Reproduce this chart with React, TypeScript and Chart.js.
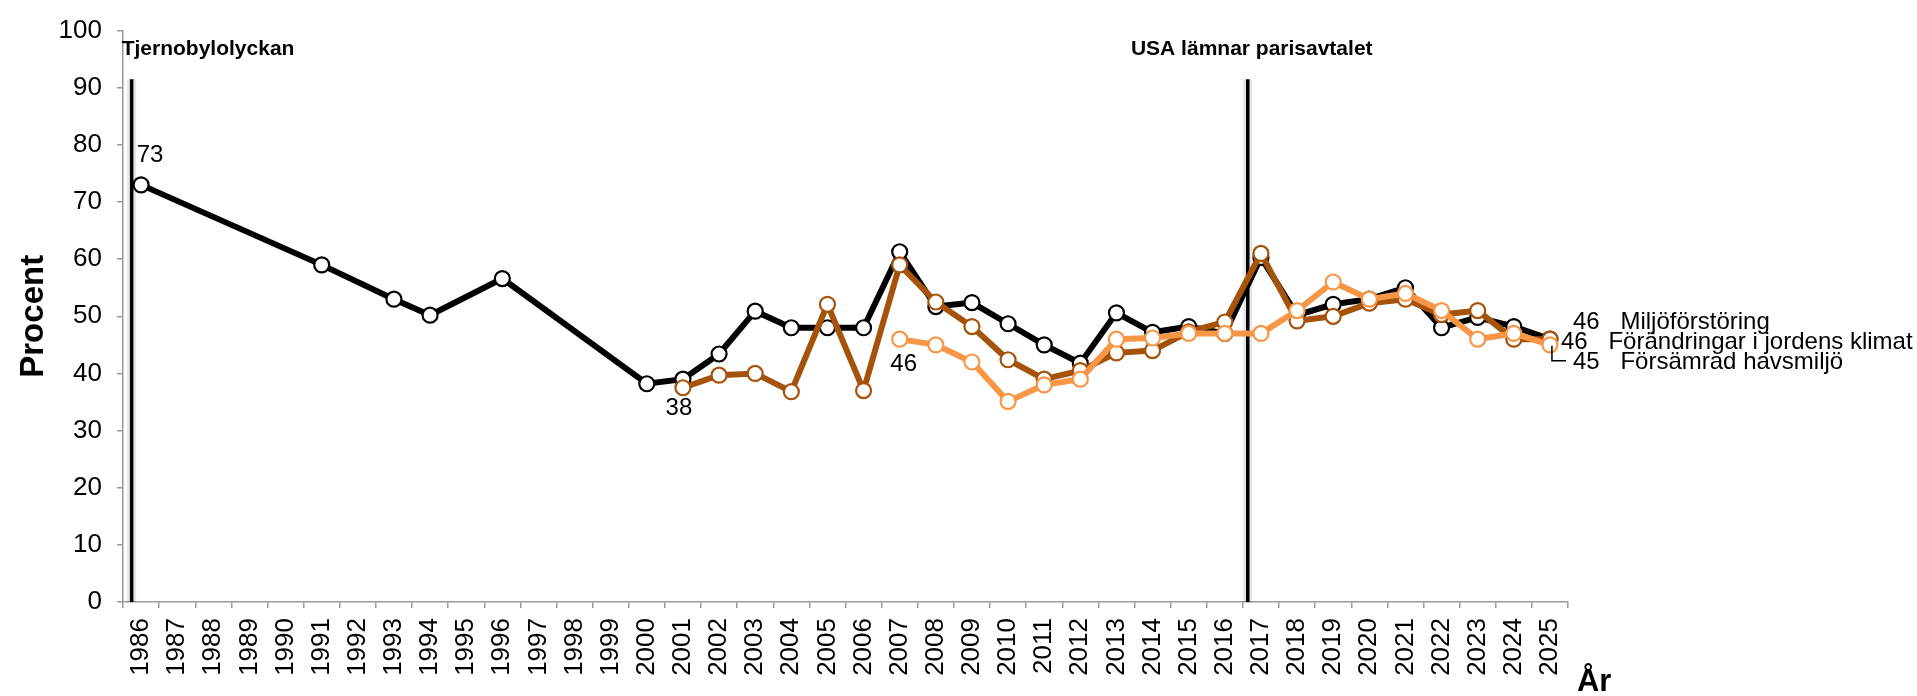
import React, { useEffect, useRef } from 'react';
import { Chart, registerables } from 'chart.js';

Chart.register(...registerables);

const FONT = "'Liberation Sans', Arial, Helvetica, sans-serif";

// ---- Data ----
const years = [
  '1986', '1987', '1988', '1989', '1990', '1991', '1992', '1993', '1994', '1995',
  '1996', '1997', '1998', '1999', '2000', '2001', '2002', '2003', '2004', '2005',
  '2006', '2007', '2008', '2009', '2010', '2011', '2012', '2013', '2014', '2015',
  '2016', '2017', '2018', '2019', '2020', '2021', '2022', '2023', '2024', '2025',
];

const miljoforstoring = [
  73, null, null, null, null, 59, null, 53, 50.2, null,
  56.6, null, null, null, 38.2, 39, 43.4, 50.9, 48, 48,
  48, 61.3, 51.7, 52.4, 48.7, 45, 41.8, 50.6, 47.2, 48.2,
  47, 60.3, 50.2, 52.1, 53, 55, 48, 49.8, 48.2, 46,
];

const klimat = [
  null, null, null, null, null, null, null, null, null, null,
  null, null, null, null, null, 37.5, 39.7, 40, 36.8, 52.1,
  37, 59, 52.5, 48.2, 42.4, 39, 40.5, 43.6, 44, 47.3,
  49, 61, 49.2, 50, 52.3, 53, 50.3, 51, 46, 46,
];

const havsmiljo = [
  null, null, null, null, null, null, null, null, null, null,
  null, null, null, null, null, null, null, null, null, null,
  null, 46, 45, 42, 35.1, 38, 39, 46, 46.2, 47,
  47, 47, 51, 56, 53, 54, 51, 46, 47, 45,
];

const seriesNames = ['Miljöförstöring', 'Förändringar i jordens klimat', 'Försämrad havsmiljö'];
const seriesColors = ['#000000', '#A5520B', '#F79646'];

const eventNames = ['Tjernobylolyckan', 'USA lämnar parisavtalet'];
const eventYears = [1985.74, 2016.635];
const eventTop = 91.5;

const yTitle = 'Procent';
const xTitle = 'År';

// point labels: [series index, category index]
const pointLabelSeries = [0, 1, 2];
const pointLabelIndex = [0, 15, 21];

export default function App() {
  const ref = useRef<HTMLCanvasElement | null>(null);

  useEffect(() => {
    const canvas = ref.current;
    if (!canvas) return;
    const allSeries = [miljoforstoring, klimat, havsmiljo];

    const overlay = {
      id: 'overlay',
      beforeDatasetsDraw(chart: any) {
        const { ctx, scales } = chart;
        const x = scales.x;
        const y = scales.y;
        ctx.save();
        eventYears.forEach((yr) => {
          const px = x.getPixelForValue(yr - 1986);
          const top = y.getPixelForValue(eventTop);
          const bottom = y.getPixelForValue(0);
          ctx.beginPath();
          ctx.strokeStyle = 'rgba(0,0,0,0.10)';
          ctx.lineWidth = 9;
          ctx.moveTo(px, top);
          ctx.lineTo(px, bottom);
          ctx.stroke();
          ctx.beginPath();
          ctx.strokeStyle = '#000';
          ctx.lineWidth = 3.5;
          ctx.moveTo(px, top);
          ctx.lineTo(px, bottom);
          ctx.stroke();
        });
        ctx.restore();
      },
      afterDatasetsDraw(chart: any) {
        const { ctx, scales } = chart;
        const x = scales.x;
        const y = scales.y;
        ctx.save();
        ctx.fillStyle = '#000';

        // event labels
        ctx.font = `bold 21px ${FONT}`;
        ctx.textBaseline = 'alphabetic';
        eventYears.forEach((yr, i) => {
          const px = x.getPixelForValue(yr - 1986);
          if (i === 0) {
            ctx.textAlign = 'left';
            ctx.fillText(eventNames[i], px - 10, 55);
          } else {
            ctx.textAlign = 'center';
            ctx.fillText(eventNames[i], px + 4, 55);
          }
        });

        // point labels
        ctx.font = `24px ${FONT}`;
        ctx.textAlign = 'center';
        ctx.textBaseline = 'middle';
        const offs = [[9, -30], [-4, 21], [4, 25]];
        pointLabelSeries.forEach((s, k) => {
          const idx = pointLabelIndex[k];
          const v = allSeries[s][idx] as number;
          const px = x.getPixelForValue(idx);
          const py = y.getPixelForValue(v);
          ctx.fillText(String(Math.round(v)), px + offs[k][0], py + offs[k][1]);
        });

        // end labels
        const last = years.length - 1;
        const lastX = x.getPixelForValue(last);
        const baseY = y.getPixelForValue(allSeries[0][last] as number) - 10;
        const rowDx = [23, 11, 23];
        const rowDy = [0, 20, 39.5];
        ctx.font = `24px ${FONT}`;
        ctx.textAlign = 'left';
        ctx.textBaseline = 'alphabetic';
        allSeries.forEach((arr, s) => {
          const v = arr[last] as number;
          const tx = lastX + rowDx[s];
          const ty = baseY + rowDy[s];
          ctx.fillText(String(Math.round(v)), tx, ty);
          ctx.fillText(seriesNames[s], tx + 47.5, ty);
        });
        // leader line for the third label
        const py3 = y.getPixelForValue(allSeries[2][last] as number);
        ctx.beginPath();
        ctx.strokeStyle = '#000';
        ctx.lineWidth = 1.5;
        ctx.moveTo(lastX + 2, py3 + 1);
        ctx.lineTo(lastX + 2, baseY + rowDy[2] - 8);
        ctx.lineTo(lastX + 16, baseY + rowDy[2] - 8);
        ctx.stroke();

        // x axis title
        ctx.font = `bold 31px ${FONT}`;
        ctx.textAlign = 'left';
        ctx.textBaseline = 'alphabetic';
        ctx.fillText(xTitle, lastX + 27, 691);
        ctx.restore();
      },
    };

    const datasets = allSeries.map((arr, s) => ({
      label: seriesNames[s],
      data: arr,
      borderColor: seriesColors[s],
      backgroundColor: seriesColors[s],
      borderWidth: 6,
      pointRadius: 7.5,
      pointBorderWidth: 2.2,
      pointBackgroundColor: '#ffffff',
      pointBorderColor: seriesColors[s],
      spanGaps: true,
      tension: 0,
      order: 3 - s,
    }));

    const chart = new Chart(canvas, {
      type: 'line',
      data: { labels: years, datasets },
      options: {
        animation: false,
        responsive: false,
        devicePixelRatio: 1,
        events: [],
        layout: { padding: { left: 0, top: 23, right: 349, bottom: 0 } },
        plugins: {
          legend: { display: false },
          tooltip: { enabled: false },
          title: { display: false },
        },
        scales: {
          x: {
            type: 'category',
            offset: true,
            grid: {
              offset: true,
              drawOnChartArea: false,
              drawTicks: true,
              tickLength: 6,
              color: '#9a9a9a',
              lineWidth: 1.5,
            },
            border: { color: '#9a9a9a', width: 1.5 },
            ticks: {
              autoSkip: false,
              minRotation: 90,
              maxRotation: 90,
              padding: 10,
              color: '#000',
              font: { size: 26, family: FONT },
            },
            afterFit: (s: any) => { s.height = 94; },
          },
          y: {
            min: 0,
            max: 100,
            grid: {
              drawOnChartArea: false,
              drawTicks: true,
              tickLength: 6,
              color: '#9a9a9a',
              lineWidth: 1.5,
            },
            border: { color: '#9a9a9a', width: 1.5 },
            ticks: {
              stepSize: 10,
              padding: 15,
              color: '#000',
              font: { size: 26, family: FONT },
            },
            title: {
              display: true,
              text: yTitle,
              color: '#000',
              font: { size: 33, weight: 'bold', family: FONT },
              padding: { top: 14, bottom: 0 },
            },
            afterFit: (s: any) => { s.width = 123; },
          },
        },
      },
      plugins: [overlay],
    });

    return () => chart.destroy();
  }, []);

  return (
    <div style={{ position: 'absolute', left: 0, top: 0, width: 1917, height: 696, background: '#fff' }}>
      <canvas ref={ref} width={1917} height={696} style={{ display: 'block', width: 1917, height: 696 }} />
    </div>
  );
}
